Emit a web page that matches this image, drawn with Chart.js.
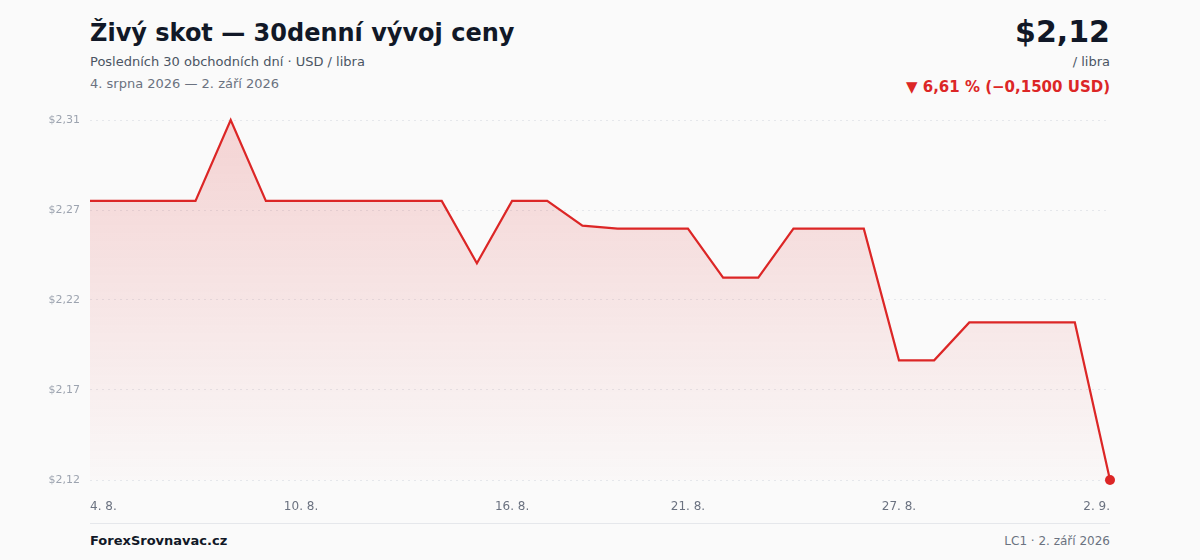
<!DOCTYPE html>
<html lang="cs">
<head>
<meta charset="utf-8">
<script src="https://cdn.jsdelivr.net/npm/chart.js@4/dist/chart.umd.min.js"></script>
<style>
  body { margin: 0; background: #fafafa; font-family: "DejaVu Sans", sans-serif; }
  #wrap { position: relative; width: 1200px; height: 560px; }
  .abs { position: absolute; white-space: nowrap; }
  #title { left: 90px; top: 19px; font-size: 24px; font-weight: bold; color: #111827; }
  #sub { left: 90px; top: 54px; font-size: 13px; color: #4b5563; }
  #range { left: 90px; top: 76px; font-size: 13px; color: #6b7280; }
  #price { right: 90px; top: 14px; font-size: 30px; font-weight: bold; color: #111827; }
  #unit { right: 90px; top: 54px; font-size: 13px; color: #4b5563; }
  #change { right: 90px; top: 78px; font-size: 15px; font-weight: bold; color: #dc2626; }
  #chartBox { left: 0; top: 100px; width: 1200px; height: 420px; }
  #rule { left: 90px; top: 523px; width: 1020px; height: 1px; background: #e5e7eb; }
  #brand { left: 90px; top: 533px; font-size: 13px; font-weight: bold; color: #111827; }
  #note { right: 90px; top: 534px; font-size: 12px; color: #6b7280; }
</style>
</head>
<body>
<div id="wrap">
  <div class="abs" id="title">Živý skot — 30denní vývoj ceny</div>
  <div class="abs" id="sub">Posledních 30 obchodních dní · USD / libra</div>
  <div class="abs" id="range">4. srpna 2026 — 2. září 2026</div>
  <div class="abs" id="price">$2,12</div>
  <div class="abs" id="unit">/ libra</div>
  <div class="abs" id="change">▼ 6,61 % (−0,1500 USD)</div>
  <div class="abs" id="chartBox"><canvas id="chart"></canvas></div>
  <div class="abs" id="rule"></div>
  <div class="abs" id="brand">ForexSrovnavac.cz</div>
  <div class="abs" id="note">LC1 · 2. září 2026</div>
</div>
<script>
// days shown on the x axis
const days = ["4. 8.", "5. 8.", "6. 8.", "7. 8.", "8. 8.", "9. 8.", "10. 8.", "11. 8.", "12. 8.", "13. 8.",
  "14. 8.", "15. 8.", "16. 8.", "17. 8.", "18. 8.", "19. 8.", "20. 8.", "21. 8.", "22. 8.", "23. 8.",
  "24. 8.", "25. 8.", "26. 8.", "27. 8.", "28. 8.", "29. 8.", "30. 8.", "31. 8.", "1. 9.", "2. 9."];
// price in USD per pound
const prices = [2.27, 2.27, 2.27, 2.27, 2.3135, 2.27, 2.27, 2.27, 2.27, 2.27,
  2.27, 2.2365, 2.27, 2.27, 2.2567, 2.2551, 2.2551, 2.2551, 2.2288, 2.2288,
  2.2551, 2.2551, 2.2551, 2.1843, 2.1843, 2.2047, 2.2047, 2.2047, 2.2047, 2.12];
// labels that get printed under the axis
const xTickLabels = ["4. 8.", "10. 8.", "16. 8.", "21. 8.", "27. 8.", "2. 9."];

const red = "#dc2626";
const lastIdx = prices.length - 1;

const fmt = (v) => "$" + v.toFixed(2).replace(".", ",");

new Chart(document.getElementById("chart"), {
  type: "line",
  data: {
    labels: days,
    datasets: [{
      data: prices,
      borderColor: red,
      borderWidth: 2.2,
      tension: 0,
      clip: false,
      fill: "start",
      backgroundColor: (ctx) => {
        const area = ctx.chart.chartArea;
        if (!area) return "rgba(220,38,38,0.1)";
        const g = ctx.chart.ctx.createLinearGradient(0, area.top, 0, area.bottom);
        g.addColorStop(0, "rgba(220,38,38,0.18)");
        g.addColorStop(1, "rgba(220,38,38,0.01)");
        return g;
      },
      pointRadius: (ctx) => ctx.dataIndex === lastIdx ? 5 : 0,
      pointBackgroundColor: red,
      pointBorderColor: red,
      pointBorderWidth: 0
    }]
  },
  options: {
    responsive: true,
    maintainAspectRatio: false,
    animation: false,
    events: [],
    layout: { padding: { top: 20, right: 90, left: 0, bottom: 0 } },
    plugins: { legend: { display: false }, tooltip: { enabled: false } },
    scales: {
      x: {
        grid: { display: false },
        border: { display: false },
        afterFit: (s) => { s.height = 40; },
        ticks: {
          autoSkip: false,
          maxRotation: 0,
          align: "inner",
          padding: 12,
          color: "#6b7280",
          font: { family: "DejaVu Sans", size: 12 },
          callback: function (v) {
            const l = this.getLabelForValue(v);
            return xTickLabels.includes(l) ? l : "";
          }
        }
      },
      y: {
        min: Math.min(...prices),
        max: Math.max(...prices),
        afterFit: (s) => { s.width = 90; },
        grid: { color: "#e5e7eb", drawTicks: false, lineWidth: 1 },
        border: { display: false, dash: [2, 4] },
        ticks: {
          count: 5,
          padding: 10,
          color: "#9ca3af",
          font: { family: "DejaVu Sans", size: 11 },
          callback: (v) => fmt(v)
        }
      }
    }
  }
});
</script>
</body>
</html>
